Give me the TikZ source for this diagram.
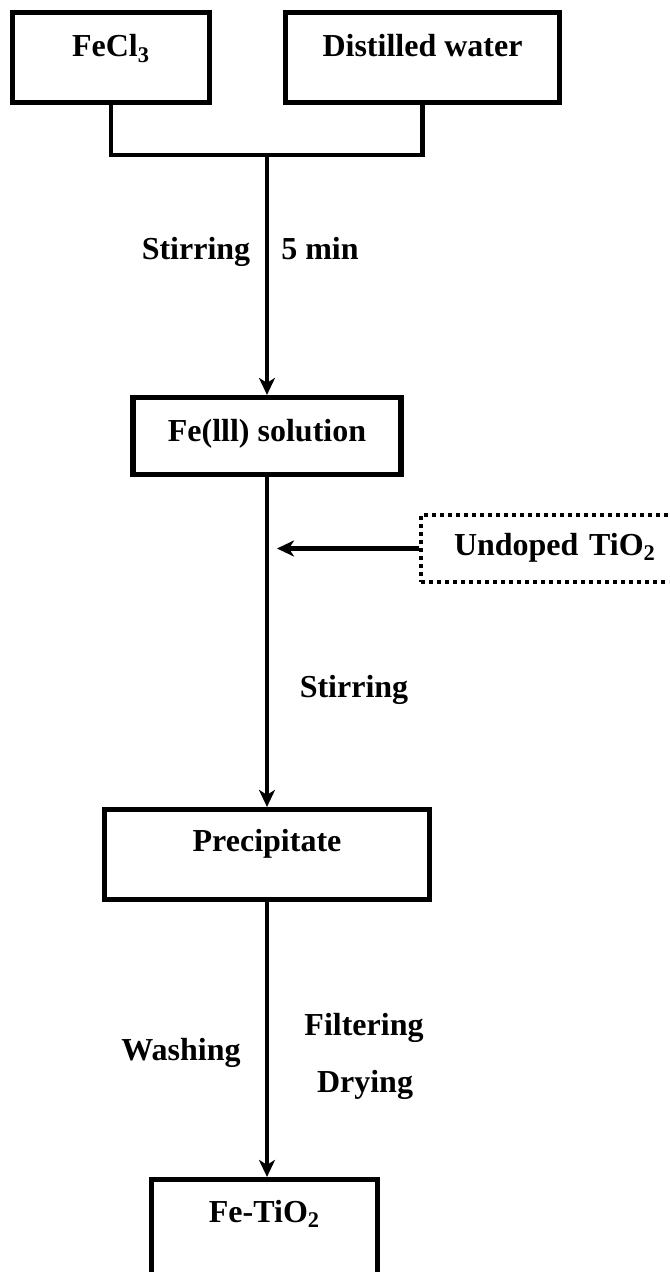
\documentclass[tikz,border=0pt]{standalone}
\usepackage{fontspec}
\setmainfont{Liberation Serif}
\usetikzlibrary{arrows.meta}

\begin{document}
\begin{tikzpicture}[
  x=0.5pt, y=-0.5pt,
  stage/.style={draw,line width=2.6pt,anchor=base,inner sep=0pt,
                font=\fontsize{16}{19}\selectfont\bfseries},
  added/.style={stage,line width=2pt,dash pattern=on 2pt off 2pt,
                anchor=base west,align=left,inner xsep=16.5pt},
  lbl/.style={anchor=base,inner sep=0pt,font=\fontsize{16}{19}\selectfont\bfseries},
  link/.style={line width=2.2pt},
  flow/.style={link,-{Stealth[length=8.5pt,width=8pt,inset=2.5pt]}},
]

%% Page frame (the last box runs off the bottom, the dotted one off the right)
\useasboundingbox (0,0) rectangle (669,1272);
\clip (0,0) rectangle (669,1272);

%% Starting materials
\node[stage,minimum width=98.5pt,text height=22.25pt,text depth=22.75pt]
  (fecl) at (111,57) {FeCl\textsubscript{3}};
\node[stage,minimum width=137pt,text height=22.25pt,text depth=22.75pt]
  (water) at (422.5,57) {Distilled water};

%% Process stages
\node[stage,minimum width=134pt,text height=21.75pt,text depth=16.75pt]
  (feiii) at (267,441) {Fe(lll) solution};
\node[stage,minimum width=162.5pt,text height=20.75pt,text depth=24.25pt]
  (prec) at (267,851) {Precipitate};
\node[stage,minimum width=113pt,text height=21.25pt,text depth=34pt]
  (fetio) at (264.5,1222) {Fe-TiO\textsubscript{2}};

%% Added powder (dotted)
\node[added,text width=130pt,text height=20pt,text depth=13.5pt]
  (tio2) at (419,555) {Undoped TiO\textsubscript{2}};

%% Junction points
\coordinate (join) at (267,155);
\coordinate (feed) at (277,548.5);

%% Connectors
\draw[link] (fecl.south) |- (join) -| (water.south);
\draw[flow] (join) -- (join |- feiii.north);
\draw[flow] (feiii.south) -- (feiii.south |- prec.north);
\draw[flow] (tio2.west) -- (feed);
\draw[flow] (prec.south) -- (prec.south |- fetio.north);

%% Step labels
\node[lbl] (stir1) at (196,260) {Stirring};
\node[lbl] (time1) at (320,260) {5 min};
\node[lbl] (stir2) at (354,697) {Stirring};
\node[lbl] (wash) at (181,1060) {Washing};
\node[lbl] (filt) at (364,1035) {Filtering};
\node[lbl] (dry) at (365,1092) {Drying};

\end{tikzpicture}
\end{document}
